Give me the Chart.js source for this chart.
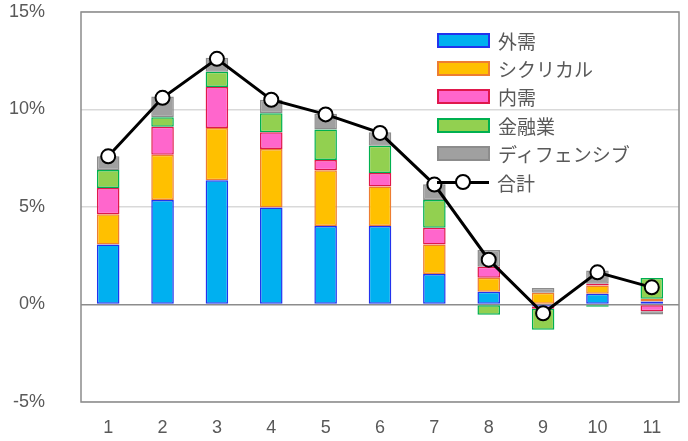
<!DOCTYPE html>
<html>
<head>
<meta charset="utf-8">
<script src="https://cdn.jsdelivr.net/npm/chart.js@4"></script>
<style>
  html, body { margin: 0; padding: 0; background: #fff; }
  #wrap { position: relative; width: 688px; height: 441px; }
  #legend { position: absolute; left: 437px; top: 26px; font-family: "Noto Sans CJK JP", sans-serif; font-size: 19px; color: #595959; }
  .item { height: 28.4px; display: flex; align-items: center; }
  .sw { width: 49px; height: 11px; margin-right: 8px; box-sizing: content-box; }
  .ln { width: 52px; height: 16px; margin-right: 8px; position: relative; }
  .ln:before { content: ''; position: absolute; left: 0; right: 0; top: 6.5px; height: 3px; background: #000; }
  .ln:after { content: ''; position: absolute; left: 18px; top: 0; width: 12px; height: 12px; border: 2px solid #000; border-radius: 50%; background: #fff; }
</style>
</head>
<body>
<div id="wrap">
  <canvas id="chart" width="688" height="441"></canvas>
  <div id="legend"></div>
</div>
<script>
const categories = ['1', '2', '3', '4', '5', '6', '7', '8', '9', '10', '11'];
const seriesNames = ['外需', 'シクリカル', '内需', '金融業', 'ディフェンシブ', '合計'];
const gaiju = [3.08, 5.36, 6.37, 4.97, 4.02, 4.02, 1.56, 0.65, -0.1, 0.55, 0.15];
const cyclical = [1.55, 2.32, 2.68, 3.0, 2.87, 2.03, 1.52, 0.72, 0.6, 0.43, 0.15];
const naiju = [1.34, 1.44, 2.1, 0.86, 0.52, 0.69, 0.85, 0.57, -0.12, 0.08, -0.34];
const kinyu = [0.93, 0.48, 0.79, 0.98, 1.56, 1.4, 1.43, -0.52, -1.08, -0.12, 1.06];
const defensive = [0.7, 1.07, 0.72, 0.69, 0.81, 0.69, 0.81, 0.86, 0.24, 0.69, -0.17];
const total = [7.6, 10.6, 12.6, 10.5, 9.75, 8.8, 6.15, 2.3, -0.45, 1.65, 0.88];
const yTicks = [-5, 0, 5, 10, 15];

const fills = ['#00B0F0', '#FFC000', '#FF66CC', '#92D050', '#A0A0A0'];
const borders = ['#2233EE', '#ED7D31', '#E0184C', '#00B050', '#8C8C8C'];

function barSet(i, data) {
    return {
        type: 'bar',
        label: seriesNames[i],
        data: data,
        backgroundColor: fills[i],
        borderColor: borders[i],
        borderWidth: 1.5,
        borderSkipped: false,
        barPercentage: 0.415,
        categoryPercentage: 1,
        order: 1
    };
}

// frame around the plot area
const framePlugin = {
    id: 'frame',
    afterDatasetsDraw(chart) {
        const a = chart.chartArea;
        const ctx = chart.ctx;
        ctx.save();
        ctx.strokeStyle = '#8C8C8C';
        ctx.lineWidth = 1.5;
        ctx.strokeRect(a.left, a.top, a.right - a.left, a.bottom - a.top);
        ctx.restore();
    }
};

const ctx = document.getElementById('chart').getContext('2d');
const chart = new Chart(ctx, {
    data: {
        labels: categories,
        datasets: [
            barSet(0, gaiju),
            barSet(1, cyclical),
            barSet(2, naiju),
            barSet(3, kinyu),
            barSet(4, defensive),
            {
                type: 'line',
                label: seriesNames[5],
                data: total,
                borderColor: '#000',
                borderWidth: 3,
                pointRadius: 7,
                pointBorderWidth: 2,
                pointBackgroundColor: '#fff',
                pointBorderColor: '#000',
                tension: 0,
                order: 0
            }
        ]
    },
    options: {
        responsive: false,
        animation: false,
        layout: { padding: { top: 12, right: 7, left: 0, bottom: 0 } },
        plugins: {
            legend: { display: false },
            tooltip: { enabled: false }
        },
        scales: {
            x: {
                stacked: true,
                grid: { display: false, drawTicks: false },
                border: { display: false },
                ticks: { color: '#595959', font: { family: 'Liberation Sans', size: 18 }, padding: 15, maxRotation: 0 },
                afterFit(scale) { scale.height = 39; }
            },
            y: {
                stacked: true,
                min: -5,
                max: 15,
                afterBuildTicks(scale) { scale.ticks = yTicks.map(v => ({ value: v })); },
                grid: {
                    drawTicks: false,
                    lineWidth: 1.5,
                    color: c => (c.tick && c.tick.value === 0) ? '#8C8C8C' : '#D9D9D9'
                },
                border: { display: false },
                ticks: {
                    color: '#595959',
                    font: { family: 'Liberation Sans', size: 18 },
                    padding: 36,
                    callback: v => v + '%'
                },
                afterFit(scale) {
                    scale.width = 81;
                    scale.paddingTop = 0;
                    scale.paddingBottom = 0;
                }
            }
        }
    },
    plugins: [framePlugin]
});

// legend
const legend = document.getElementById('legend');
legend.innerHTML = seriesNames.map((name, i) => {
    const mark = i < 5
        ? `<span class="sw" style="background:${fills[i]};border:2px solid ${borders[i]}"></span>`
        : `<span class="ln"></span>`;
    return `<div class="item">${mark}<span>${name}</span></div>`;
}).join('');
</script>
</body>
</html>
